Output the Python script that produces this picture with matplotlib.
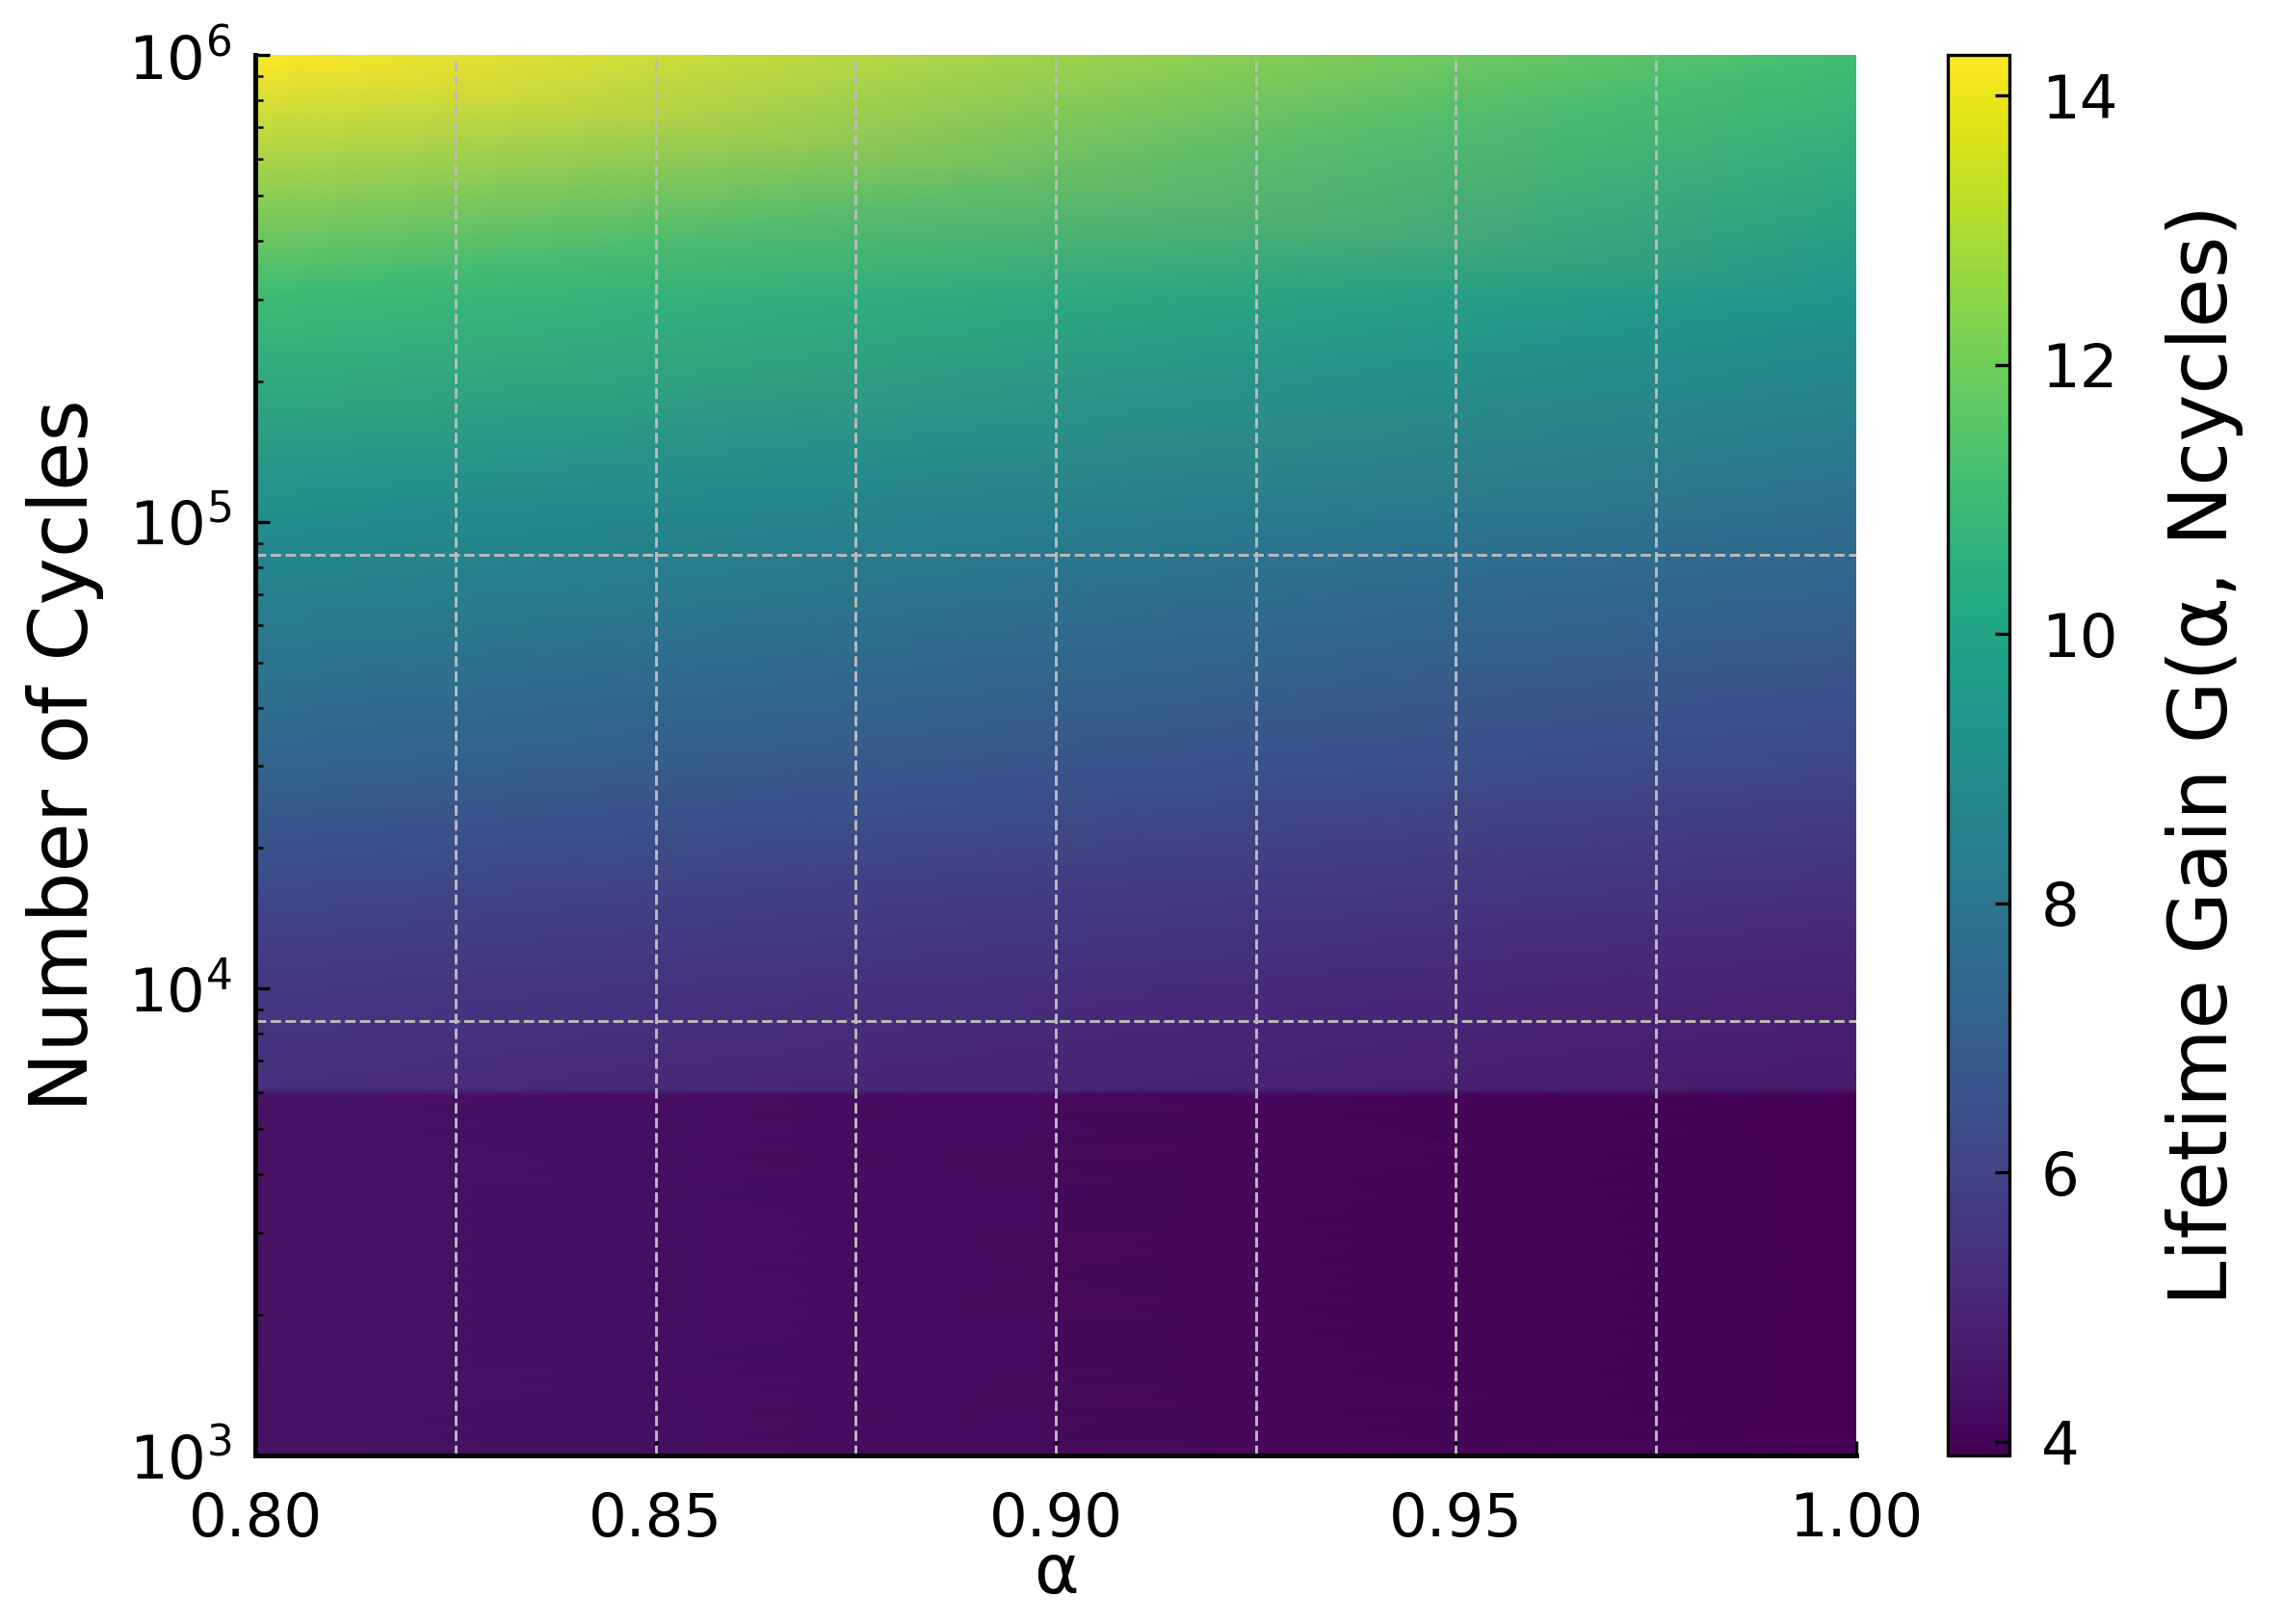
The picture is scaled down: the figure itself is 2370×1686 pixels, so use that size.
import numpy as np
import matplotlib
matplotlib.use("Agg")
import matplotlib.pyplot as plt

alpha_nodes = [0.80, 1.00]
cycle_nodes = [1e3, 5.9e3, 6.1e3, 1e4, 1.6e4, 3e4, 1e5, 3e5, 1e6]
gain_left = [4.4, 4.4, 5.3, 5.6, 6.2, 7.2, 9.0, 11.0, 14.3]
gain_right = [3.9, 3.9, 4.6, 4.9, 5.3, 6.1, 7.6, 9.3, 11.1]

plt.rcParams['font.family'] = ['DejaVu Sans']
fig = plt.figure(figsize=(7.9, 5.62), dpi=300)
ax = fig.add_axes([0.112, 0.104, 0.701, 0.862])
cax = fig.add_axes([0.853, 0.104, 0.027, 0.862])

G = np.column_stack([gain_left, gain_right])
X, Y = np.meshgrid(alpha_nodes, cycle_nodes)
m = ax.pcolormesh(X, Y, G, shading='gouraud', cmap='viridis', vmin=3.9, vmax=14.3)
ax.set_yscale('log')
ax.set_xlim(0.80, 1.00)
ax.set_ylim(1e3, 1e6)
for xv in [0.825, 0.85, 0.875, 0.9, 0.925, 0.95, 0.975]:
    ax.axvline(xv, color='#bbbbbb', ls='--', lw=0.7)
for yv in [8.5e3, 8.5e4]:
    ax.axhline(yv, color='#bbbbbb', ls='--', lw=0.7)
ax.set_xticks([0.80, 0.85, 0.90, 0.95, 1.00])
ax.set_xticklabels(['0.80', '0.85', '0.90', '0.95', '1.00'])
ax.tick_params(direction='in', labelsize=15, which='both', right=False, top=False)
ax.tick_params(axis='x', pad=9)
ax.tick_params(axis='y', pad=6)
ax.set_xlabel('α', fontsize=17, labelpad=-2)
ax.set_ylabel('Number of Cycles', fontsize=20, labelpad=6)
for s in ['top', 'right']:
    ax.spines[s].set_visible(False)
for s in ['left', 'bottom']:
    ax.spines[s].set_linewidth(1.2)

cb = fig.colorbar(m, cax=cax)
cb.set_ticks([4, 6, 8, 10, 12, 14])
cb.ax.tick_params(labelsize=15, direction='in', pad=8)
cb.set_label('Lifetime Gain G(α, Ncycles)', fontsize=20, labelpad=12)
fig.savefig('out.png', dpi=300)
